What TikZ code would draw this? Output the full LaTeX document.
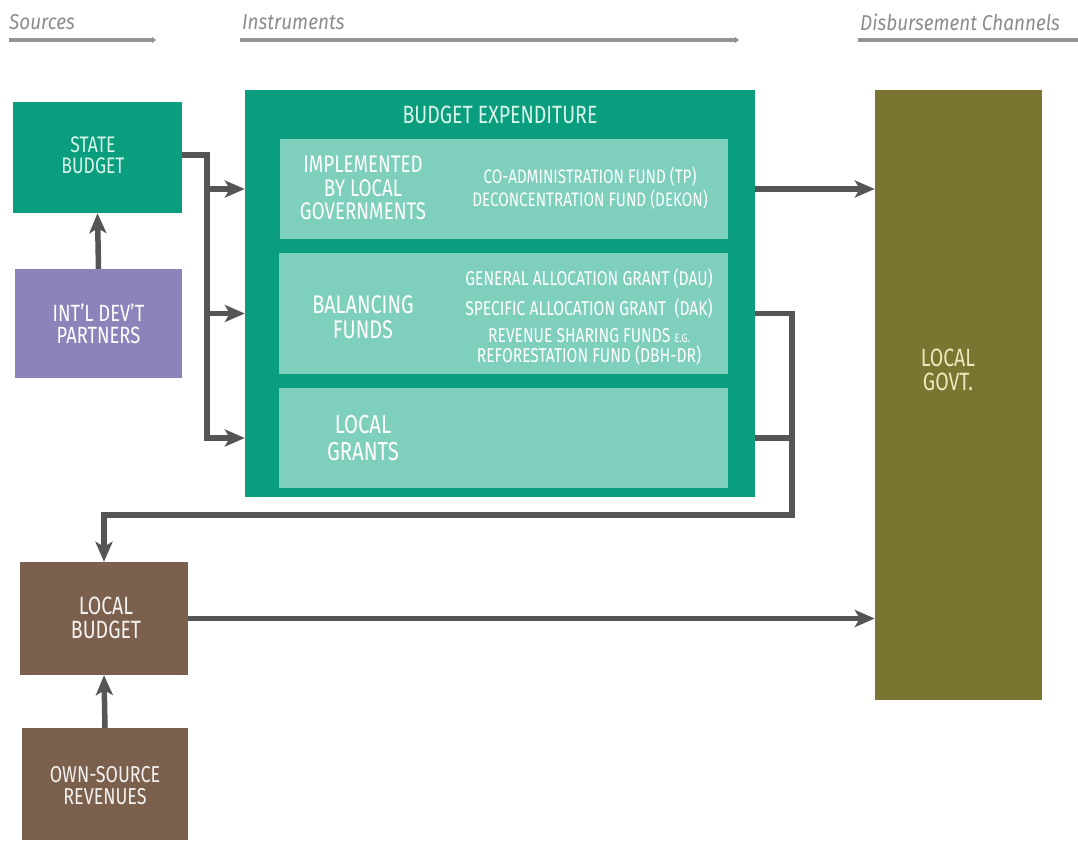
\documentclass[tikz,border=0pt]{standalone}
\usepackage{fontspec}
\setmainfont{Fira Sans}[FakeStretch=0.78]
\newfontfamily\hdrfont{Fira Sans}[FakeStretch=0.88]
\usetikzlibrary{arrows.meta,calc}
\definecolor{cExp}{HTML}{0A9E7F}
\definecolor{cInner}{HTML}{7FCFBD}
\definecolor{cPurple}{HTML}{8B83BA}
\definecolor{cBrown}{HTML}{7A604D}
\definecolor{cOlive}{HTML}{7A7632}
\definecolor{cArrow}{HTML}{555555}
\definecolor{cHdr}{HTML}{8C8C8C}
\definecolor{cHdrLine}{HTML}{939393}
\definecolor{cMint}{HTML}{D8F3E8}
\definecolor{cCream}{HTML}{EFE8BC}
\newcommand\fs[2]{\fontsize{#1}{#2}\selectfont}
\begin{document}
\begin{tikzpicture}[x=1pt,y=-1pt,
  box/.style={rectangle, draw=none, inner sep=0pt},
  lbl/.style={align=center, inner sep=0pt, text=white},
  conn/.style={draw=cArrow, line width=5.5pt, line join=miter},
  arr/.style={conn, -{Stealth[length=20pt,width=17pt,inset=5pt]}},
  hdrline/.style={draw=cHdrLine, line width=3.5pt, -{Triangle[length=4pt,width=6pt]}},
  hdr/.style={anchor=west, inner sep=0pt, text=cHdr, font=\hdrfont\itshape\fs{21.5}{23}}]
\useasboundingbox (0,0) rectangle (1078,840);

% headers
\node[hdr] (hs) at (9,22) {Sources};
\node[hdr] (hi) at (242,22) {Instruments};
\node[hdr] (hd) at (860,22) {Disbursement Channels};
\coordinate (hs1) at (9,40); \coordinate (hs2) at (156,40);
\coordinate (hi1) at (240,40); \coordinate (hi2) at (739,40);
\coordinate (hd1) at (858,40); \coordinate (hd2) at (1082,40);
\draw[hdrline] (hs1) -- (hs2);
\draw[hdrline] (hi1) -- (hi2);
\draw[hdrline] (hd1) -- (hd2);

% sources
\node[box, fill=cExp, minimum width=169pt, minimum height=111pt] (state) at (97.5,157.5) {};
\node[lbl, text=cMint, font=\fs{22.5}{21}] (statet) at (93,155) {STATE\\BUDGET};
\node[box, fill=cPurple, minimum width=167pt, minimum height=109pt] (partners) at (98.5,323.5) {};
\node[lbl, font=\fs{23.5}{22}] (partnerst) at (partners.center) {INT'L DEV'T\\PARTNERS};

% budget expenditure
\node[box, fill=cExp, minimum width=510pt, minimum height=407pt] (exp) at (500,293.5) {};
\node[lbl, text=cMint, font=\fs{25}{25}] (expt) at (500,115) {BUDGET EXPENDITURE};
\node[box, fill=cInner, minimum width=448pt, minimum height=100pt] (impl) at (504,189) {};
\node[box, fill=cInner, minimum width=449pt, minimum height=121pt] (bal) at (503.5,313.5) {};
\node[box, fill=cInner, minimum width=449pt, minimum height=100pt] (grants) at (503.5,438) {};
\node[lbl, font=\fs{24}{23.5}] (implt) at (363,188) {IMPLEMENTED\\BY LOCAL\\GOVERNMENTS};
\node[lbl, font=\fs{19.5}{23}] (implr) at (590,188) {CO-ADMINISTRATION FUND (TP)\\DECONCENTRATION FUND (DEKON)};
\node[lbl, font=\fs{25.5}{25}] (balt) at (363,317) {BALANCING\\FUNDS};
\node[lbl, font=\fs{20}{30}] (balr1) at (589,293) {GENERAL ALLOCATION GRANT (DAU)\\SPECIFIC ALLOCATION GRANT~~(DAK)};
\node[lbl, font=\fs{20}{19.5}] (balr2) at (589,347) {REVENUE SHARING FUNDS~{\fs{12}{12}E.G.}\\REFORESTATION FUND (DBH-DR)};
\node[lbl, font=\fs{26}{27}] (grantst) at (363,438) {LOCAL\\GRANTS};

% local government
\node[box, fill=cOlive, minimum width=167pt, minimum height=610pt] (govt) at (958.5,395) {};
\node[lbl, text=cCream, font=\fs{25}{24}] (govtt) at (948,370) {LOCAL\\GOVT.};

% local budget and own-source revenues
\node[box, fill=cBrown, minimum width=168pt, minimum height=113pt] (lbud) at (104,618.5) {};
\node[lbl, text=white!92!cBrown, font=\fs{25}{23.5}] (lbudt) at (106,618) {LOCAL\\BUDGET};
\node[box, fill=cBrown, minimum width=166pt, minimum height=112pt] (own) at (105,784) {};
\node[lbl, text=white!92!cBrown, font=\fs{23}{22}] (ownt) at (105,786) {OWN-SOURCE\\REVENUES};

% connectors
\draw[arr] (partners.north) -- (state.south);
\draw[arr] (own.north) -- (lbud.south);
\coordinate (bx) at (207,155);
\draw[arr] (state.east |- bx) -- (bx) |- (exp.west |- grants.west);
\draw[arr] (bx |- impl.west) -- (exp.west |- impl.west);
\draw[arr] (bx |- bal.west) -- (exp.west |- bal.west);
\draw[arr] (exp.east |- impl.east) -- (govt.west |- impl.east);
\coordinate (lx) at (792,515);
\draw[arr] (exp.east |- bal.east) -| (lx) -| (lbud.north);
\draw[conn] (exp.east |- grants.east) -- (lx |- grants.east);
\draw[arr] (lbud.east) -- (govt.west |- lbud.east);
\end{tikzpicture}
\end{document}
